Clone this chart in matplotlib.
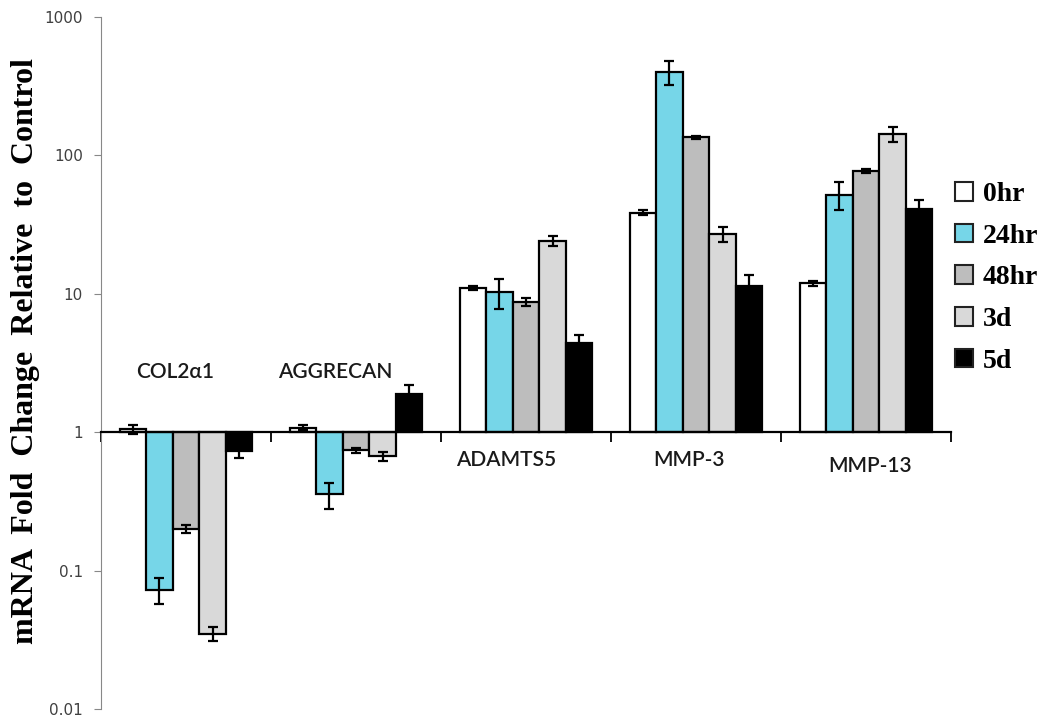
import matplotlib

matplotlib.use("Agg")
import matplotlib.pyplot as plt
from matplotlib.patches import Patch
from matplotlib.transforms import blended_transform_factory
import numpy as np

# genes and time points
genes = ["COL2\u03b11", "AGGRECAN", "ADAMTS5", "MMP-3", "MMP-13"]
series = ["0hr", "24hr", "48hr", "3d", "5d"]
colors = ["#ffffff", "#76d6e8", "#bdbdbd", "#d9d9d9", "#000000"]

# fold change relative to control, one list per time point (gene order)
fold_0hr = [1.05, 1.08, 11.0, 38.5, 11.9]
fold_24hr = [0.073, 0.355, 10.3, 400.0, 52.0]
fold_48hr = [0.20, 0.74, 8.7, 135.0, 77.0]
fold_3d = [0.035, 0.67, 24.0, 27.0, 142.0]
fold_5d = [0.73, 1.9, 4.4, 11.4, 41.0]

# error (+/-) per time point
err_0hr = [0.08, 0.05, 0.4, 1.5, 0.5]
err_24hr = [0.016, 0.075, 2.5, 80.0, 12.0]
err_48hr = [0.012, 0.03, 0.6, 4.0, 2.5]
err_3d = [0.004, 0.05, 2.0, 3.5, 18.0]
err_5d = [0.08, 0.3, 0.6, 2.2, 7.0]

folds = [fold_0hr, fold_24hr, fold_48hr, fold_3d, fold_5d]
errs = [err_0hr, err_24hr, err_48hr, err_3d, err_5d]


def main():
    fig = plt.figure(figsize=(10.53, 7.21), dpi=100)
    ax = fig.add_axes([101 / 1053, 12 / 721, 850 / 1053, 692 / 721])

    x = np.arange(len(genes))
    width = 0.156

    for i, (vals, err, color) in enumerate(zip(folds, errs, colors)):
        vals = np.array(vals)
        pos = x + (i - 2) * width
        ax.bar(pos, vals - 1, bottom=1, width=width, color=color,
               edgecolor="black", linewidth=1.6, zorder=2)
        ax.errorbar(pos, vals, yerr=err, fmt="none", ecolor="black",
                    elinewidth=1.6, capsize=3.5, capthick=1.6, zorder=3)

    ax.set_yscale("log")
    ax.set_ylim(0.01, 1000)
    ax.set_xlim(-0.5, len(genes) - 0.5)
    ax.set_yticks([0.01, 0.1, 1, 10, 100, 1000])
    ax.set_yticklabels(["0.01", "0.1", "1", "10", "100", "1000"])
    ax.minorticks_off()
    ax.tick_params(axis="y", direction="out", length=5, color="#888888",
                   labelsize=11, labelcolor="#404040", pad=8)

    # x axis sits at fold change = 1
    ax.spines["top"].set_visible(False)
    ax.spines["right"].set_visible(False)
    ax.spines["left"].set_color("#888888")
    ax.spines["bottom"].set_position(("data", 1))
    ax.spines["bottom"].set_linewidth(1.6)
    ax.set_xticks(np.arange(len(genes) + 1) - 0.5)
    ax.set_xticklabels([])
    ax.tick_params(axis="x", direction="out", length=7, width=1.3,
                   color="black")

    # gene labels
    trans = blended_transform_factory(ax.transData, ax.transAxes)
    label_x = [-0.065, 0.88, 1.885, 2.96, 4.025]
    label_y = [0.487, 0.487, 0.360, 0.360, 0.351]
    for name, lx, ly in zip(genes, label_x, label_y):
        ax.text(lx, ly, name, transform=trans, ha="center", va="center",
                fontsize=15, fontweight="semibold",
                family=["Lato", "DejaVu Sans"], color="#1a1a1a")

    fig.text(26 / 1053, 1 - 351 / 721,
             "mRNA  Fold  Change  Relative  to  Control",
             rotation=90, ha="center", va="center", fontsize=23,
             fontweight="bold", family="Liberation Serif")

    handles = [Patch(facecolor=c, edgecolor="#222222", linewidth=1.5)
               for c in colors]
    fig.legend(handles, series, loc="upper left",
               bbox_to_anchor=(955 / 1053, 1 - 182 / 721), frameon=False,
               prop={"family": "Liberation Serif", "weight": "bold",
                     "size": 20},
               handlelength=0.65, handleheight=0.65, handletextpad=0.35,
               labelspacing=0.6, borderpad=0, borderaxespad=0)

    fig.savefig("out.png", dpi=100)


if __name__ == "__main__":
    main()
